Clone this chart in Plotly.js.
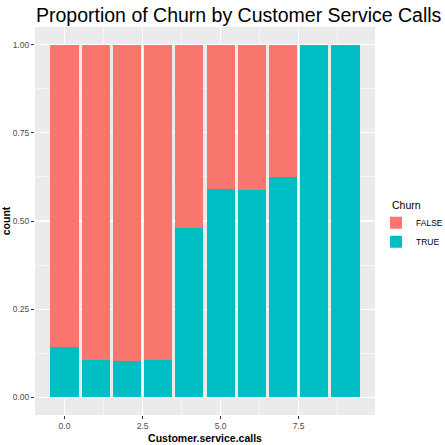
<!DOCTYPE html>
<html>
<head>
<meta charset="utf-8">
<script src="https://cdn.plot.ly/plotly-3.0.1.min.js"></script>
<style>html,body{margin:0;padding:0;background:#fff;}#chart{width:445px;height:445px;}</style>
</head>
<body>
<div id="chart"></div>
<script>
const calls = [0, 1, 2, 3, 4, 5, 6, 7, 8, 9];
const propTrue = [0.143, 0.105, 0.102, 0.107, 0.481, 0.591, 0.588, 0.626, 1.0, 1.0];
const propFalse = [0.857, 0.895, 0.898, 0.893, 0.519, 0.409, 0.412, 0.374, 0.0, 0.0];
const seriesNames = ["TRUE", "FALSE"];
const legendTitle = "Churn";
const yTickVals = [0, 0.25, 0.5, 0.75, 1.0];
const xTickVals = [0, 2.5, 5, 7.5];

const font = "Liberation Sans, Arial, sans-serif";
const traces = [
  {type: "bar", x: calls, y: propTrue, name: seriesNames[0], width: 0.9,
   marker: {color: "#00BFC4", line: {width: 0}}, hoverinfo: "x+y+name"},
  {type: "bar", x: calls, y: propFalse, name: seriesNames[1], width: 0.9,
   marker: {color: "#F8766D", line: {width: 0}}, hoverinfo: "x+y+name"}
];
const layout = {
  width: 445, height: 445,
  margin: {l: 35, r: 70, t: 27, b: 30, pad: 0, autoexpand: false},
  paper_bgcolor: "#ffffff", plot_bgcolor: "#EBEBEB",
  barmode: "stack",
  font: {family: font, color: "#4D4D4D", size: 9},
  title: {text: "Proportion of Churn by Customer Service Calls",
          font: {family: font, size: 19.5, color: "#000"},
          x: 36/445, xanchor: "left", xref: "container",
          y: 1 - 15/445, yanchor: "middle", yref: "container"},
  xaxis: {range: [-0.945, 9.945], tickvals: xTickVals, tickformat: ".1f",
          ticks: "outside", ticklen: 3, tickcolor: "#333", tickwidth: 1,
          showgrid: true, gridcolor: "#ffffff", gridwidth: 1.1, zeroline: false,
          minor: {tickvals: [1.25, 3.75, 6.25, 8.75], showgrid: true, gridcolor: "#ffffff", gridwidth: 0.55, ticks: ""},
          showline: false, tickfont: {family: font, size: 8.5, color: "#4D4D4D"},
          title: {text: "<b>Customer.service.calls</b>", font: {family: font, size: 10.5, color: "#000"}, standoff: 4},
          fixedrange: true},
  yaxis: {range: [-0.05, 1.05], tickvals: yTickVals, tickformat: ".2f",
          ticks: "outside", ticklen: 3, tickcolor: "#333", tickwidth: 1,
          showgrid: true, gridcolor: "#ffffff", gridwidth: 1.1, zeroline: false,
          minor: {tickvals: [0.125, 0.375, 0.625, 0.875], showgrid: true, gridcolor: "#ffffff", gridwidth: 0.55, ticks: ""},
          showline: false, tickfont: {family: font, size: 8.5, color: "#4D4D4D"},
          title: {text: "<b>count</b>", font: {family: font, size: 10.5, color: "#000"}, standoff: 4},
          fixedrange: true},
  legend: {x: 1.003, xanchor: "left", y: 0.533, yanchor: "top",
           traceorder: "reversed", bgcolor: "rgba(0,0,0,0)",
           font: {family: font, size: 8.5, color: "#000"}, itemwidth: 30, tracegroupgap: 0},
  annotations: [{text: legendTitle, xref: "paper", yref: "paper", x: (390 - 35) / 340, y: (415 - 205) / 388,
                 xanchor: "left", yanchor: "middle", showarrow: false,
                 font: {family: font, size: 10.5, color: "#000"}}],
  showlegend: true
};
Plotly.newPlot("chart", traces, layout, {displayModeBar: false, staticPlot: true});
</script>
</body>
</html>
